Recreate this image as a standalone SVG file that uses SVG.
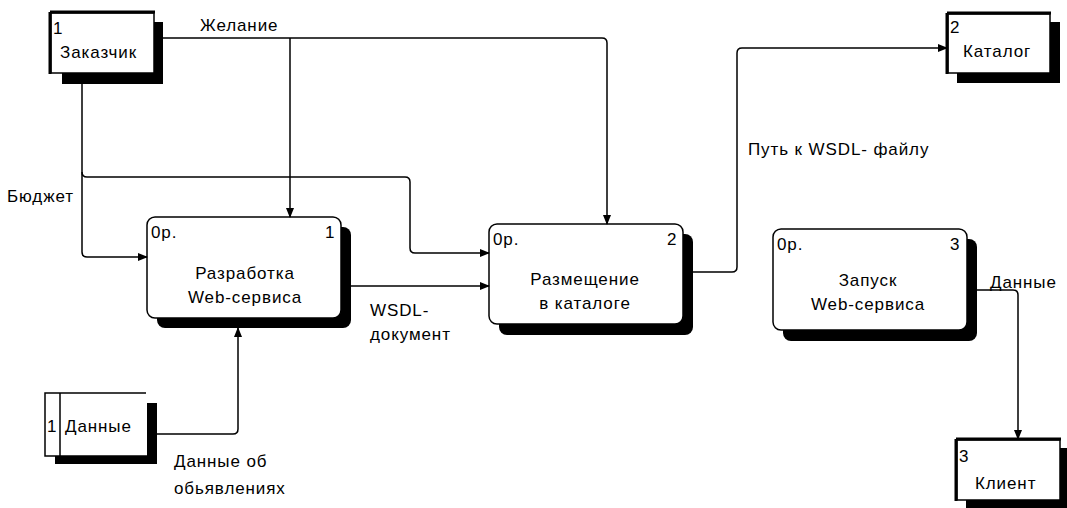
<svg xmlns="http://www.w3.org/2000/svg" width="1067" height="508" viewBox="0 0 1067 508">
<defs>
<style>
text{font-family:"Liberation Sans",Arial,sans-serif;font-size:17px;letter-spacing:0.9px;fill:#000}
.c{text-anchor:middle}
.box{fill:#fff;stroke:#000;stroke-width:1.5}
.sh{fill:#000}
.ln{fill:none;stroke:#000;stroke-width:1.5}
</style>
<marker id="ah" markerWidth="10" markerHeight="8" refX="9" refY="4" orient="auto" markerUnits="userSpaceOnUse">
<path d="M0,0 L10,4 L0,8 Z" fill="#000"/>
</marker>
</defs>
<rect width="1067" height="508" fill="#fff"/>

<g id="zakazchik">
<rect class="sh" x="62" y="22" width="101" height="62"/>
<rect class="box" x="51" y="13" width="103" height="60"/>
<path d="M50,12 H155 M50,12 V74" stroke="#000" stroke-width="3" fill="none"/>
<text x="53" y="34">1</text>
<text x="60" y="58">Заказчик</text>
</g>

<g id="katalog">
<rect class="sh" x="957" y="22" width="103" height="61"/>
<rect class="box" x="948" y="14" width="102" height="59"/>
<path d="M947,13 H1051 M947,13 V74" stroke="#000" stroke-width="3" fill="none"/>
<text x="950" y="33">2</text>
<text x="963" y="57">Каталог</text>
</g>

<g id="klient">
<rect class="sh" x="966" y="448" width="101" height="60"/>
<rect class="box" x="957" y="440" width="103" height="60"/>
<path d="M956,439 H1061 M956,439 V501" stroke="#000" stroke-width="3" fill="none"/>
<text x="959" y="462">3</text>
<text x="975" y="489">Клиент</text>
</g>

<g id="dannye-store">
<path class="sh" d="M147,403 H157 V464 H55 V456 H147 Z"/>
<path class="ln" d="M146,393 H45 V456 H147 M60,393 V456"/>
<text x="47" y="432">1</text>
<text x="65" y="432">Данные</text>
</g>

<g id="op1">
<rect class="sh" x="157" y="227" width="194" height="101" rx="8"/>
<rect class="box" x="147" y="217" width="194" height="101" rx="8"/>
<text x="151" y="238">0р.</text>
<text x="325" y="238">1</text>
<text class="c" x="245" y="279">Разработка</text>
<text class="c" x="245" y="303">Web-сервиса</text>
</g>

<g id="op2">
<rect class="sh" x="499" y="234" width="194" height="101" rx="8"/>
<rect class="box" x="489" y="224" width="194" height="100" rx="8"/>
<text x="493" y="245">0р.</text>
<text x="667" y="245">2</text>
<text class="c" x="585" y="285">Размещение</text>
<text class="c" x="585" y="309">в каталоге</text>
</g>

<g id="op3">
<rect class="sh" x="783" y="239" width="194" height="102" rx="8"/>
<rect class="box" x="773" y="229" width="194" height="101" rx="8"/>
<text x="777" y="250">0р.</text>
<text x="950" y="250">3</text>
<text class="c" x="868" y="286">Запуск</text>
<text class="c" x="868" y="310">Web-сервиса</text>
</g>

<g id="connectors">
<path class="ln" d="M163,38 H602 Q607,38 607,43 V224" marker-end="url(#ah)"/>
<path class="ln" d="M290,38 V217" marker-end="url(#ah)"/>
<path class="ln" d="M82,84 V252 Q82,257 87,257 H147" marker-end="url(#ah)"/>
<path class="ln" d="M82,172 Q82,177 87,177 H405 Q410,177 410,182 V248 Q410,253 415,253 H489" marker-end="url(#ah)"/>
<path class="ln" d="M351,286 H489" marker-end="url(#ah)"/>
<path class="ln" d="M157,434 H233 Q238,434 238,429 V328" marker-end="url(#ah)"/>
<path class="ln" d="M693,272 H732 Q737,272 737,267 V53 Q737,48 742,48 H947" marker-end="url(#ah)"/>
<path class="ln" d="M977,290 H1013 Q1018,290 1018,295 V439" marker-end="url(#ah)"/>
<text x="200" y="31">Желание</text>
<text x="7" y="202">Бюджет</text>
<text x="370" y="316">WSDL-</text>
<text x="370" y="340">документ</text>
<text x="748" y="155">Путь к WSDL- файлу</text>
<text x="990" y="288">Данные</text>
<text x="174" y="467">Данные об</text>
<text x="174" y="494">обьявлениях</text>
</g>
</svg>
